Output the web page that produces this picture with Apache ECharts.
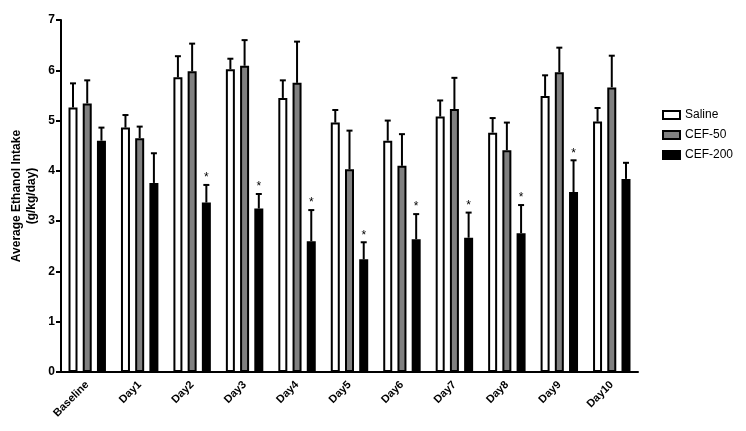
<!DOCTYPE html>
<html><head><meta charset="utf-8">
<script src="https://cdn.jsdelivr.net/npm/echarts@6/dist/echarts.min.js"></script>
<style>html,body{margin:0;padding:0;background:#fff}#c{width:746px;height:431px}</style>
</head><body><div id="c"></div>
<script>
const categories = ['Baseline','Day1','Day2','Day3','Day4','Day5','Day6','Day7','Day8','Day9','Day10'];
const seriesNames = ['Saline','CEF-50','CEF-200'];
const salineMean = [5.26,4.86,5.86,6.02,5.45,4.96,4.60,5.08,4.76,5.49,4.98];
const salineUpper = [5.74,5.11,6.28,6.23,5.80,5.21,5.00,5.40,5.05,5.90,5.25];
const cef50Mean = [5.34,4.65,5.98,6.09,5.75,4.03,4.10,5.23,4.41,5.96,5.66];
const cef50Upper = [5.80,4.88,6.53,6.60,6.57,4.80,4.73,5.85,4.96,6.45,6.29];
const cef200Mean = [4.60,3.76,3.37,3.25,2.60,2.24,2.64,2.67,2.76,3.58,3.84];
const cef200Upper = [4.86,4.35,3.72,3.54,3.22,2.58,3.14,3.17,3.32,4.21,4.16];
const cef200Sig = [0,0,1,1,1,1,1,1,1,1,0];
const yTicks = [0,1,2,3,4,5,6,7];

const BAR_W = 9, BAR_GAP = 0.58;
const step = BAR_W * (1 + BAR_GAP);
const offsets = [-step, 0, step];
const fills = ['#ffffff', '#808080', '#000000'];
const means = [salineMean, cef50Mean, cef200Mean];
const uppers = [salineUpper, cef50Upper, cef200Upper];
const sigs = [null, null, cef200Sig];
const FONT = "'Liberation Sans', Arial, sans-serif";

const series = [];
seriesNames.forEach((name, i) => {
  series.push({
    name: name, type: 'bar', barWidth: BAR_W, barGap: (BAR_GAP*100)+'%',
    data: means[i],
    itemStyle: {color: fills[i], borderColor: '#000', borderWidth: 2},
    emphasis: {disabled: true}, z: 2
  });
});
seriesNames.forEach((name, i) => {
  series.push({
    type: 'custom', name: name + '_err', z: 3,
    data: categories.map((c, k) => [k, means[i][k], uppers[i][k], sigs[i] ? sigs[i][k] : 0]),
    encode: {x: 0, y: [1, 2]},
    renderItem: function (params, api) {
      const k = api.value(0);
      const p0 = api.coord([k, api.value(1)]);
      const p1 = api.coord([k, api.value(2)]);
      const x = p0[0] + offsets[i];
      const ls = {stroke: '#000', lineWidth: 2};
      const children = [
        {type: 'line', shape: {x1: x, y1: p0[1], x2: x, y2: p1[1]}, style: ls},
        {type: 'line', shape: {x1: x - 3, y1: p1[1], x2: x + 3, y2: p1[1]}, style: ls}
      ];
      if (api.value(3)) {
        children.push({type: 'text', x: x, y: p1[1] - 1,
          style: {text: '*', fill: '#000', font: '12px ' + FONT, align: 'center', verticalAlign: 'bottom'}});
      }
      return {type: 'group', children: children};
    }
  });
});

const chart = echarts.init(document.getElementById('c'), null, {renderer: 'canvas'});
chart.setOption({
  animation: false,
  backgroundColor: '#fff',
  grid: {left: 61, right: 108, top: 20, bottom: 59, containLabel: false, outerBoundsMode: 'none'},
  legend: {
    data: seriesNames, orient: 'vertical', left: 657, top: 103,
    icon: 'rect', itemWidth: 17, itemHeight: 8, itemGap: 6,
    itemStyle: {borderColor: '#000', borderWidth: 2},
    textStyle: {fontFamily: FONT, fontSize: 12, color: '#000', lineHeight: 14}
  },
  xAxis: {
    type: 'category', data: categories,
    axisLine: {lineStyle: {color: '#000', width: 2}},
    axisTick: {alignWithLabel: true, length: 5, lineStyle: {color: '#000', width: 2}},
    axisLabel: {rotate: 45, fontFamily: FONT, fontWeight: 'bold', fontSize: 11, color: '#000', margin: 11}
  },
  yAxis: {
    type: 'value', min: yTicks[0], max: yTicks[yTicks.length-1], interval: 1,
    name: 'Average Ethanol Intake\n(g/kg/day)', nameLocation: 'middle', nameGap: 22,
    nameMoveOverlap: false,
    nameTextStyle: {fontFamily: FONT, fontWeight: 'bold', fontSize: 12, color: '#000', lineHeight: 15},
    axisLine: {show: true, lineStyle: {color: '#000', width: 2}},
    axisTick: {show: true, length: 5, lineStyle: {color: '#000', width: 2}},
    axisLabel: {fontFamily: FONT, fontWeight: 'bold', fontSize: 12, color: '#000', margin: 6},
    splitLine: {show: false}
  },
  series: series
});
</script></body></html>
